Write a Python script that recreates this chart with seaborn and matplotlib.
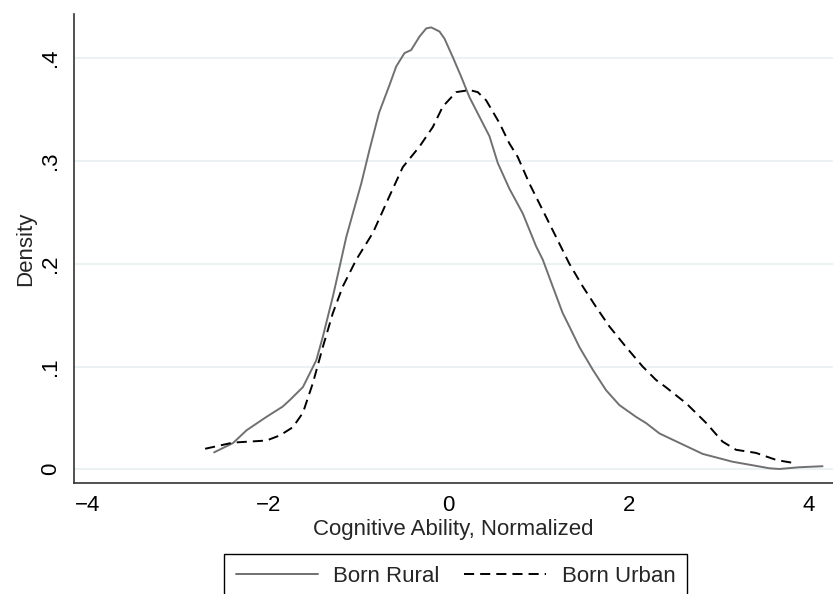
import matplotlib
matplotlib.use("Agg")
import matplotlib.pyplot as plt
import seaborn as sns

# Kernel density values
rural_x = [-2.60, -2.39, -2.24, -2.02, -1.84, -1.76, -1.615, -1.467, -1.394, -1.283,
           -1.208, -1.134, -1.061, -0.968, -0.876, -0.77, -0.654, -0.580, -0.488, -0.414,
           -0.322, -0.247, -0.192, -0.100, -0.044, 0.048, 0.141, 0.233, 0.344, 0.455,
           0.547, 0.676, 0.824, 0.972, 1.046, 1.156, 1.267, 1.341, 1.452, 1.600,
           1.748, 1.896, 2.081, 2.192, 2.339, 2.41, 2.82, 3.15, 3.37, 3.56,
           3.67, 3.89, 4.15]
rural_y = [0.0165, 0.0256, 0.038, 0.051, 0.061, 0.0674, 0.080, 0.106, 0.129, 0.168,
           0.197, 0.226, 0.249, 0.278, 0.311, 0.347, 0.374, 0.392, 0.405, 0.408,
           0.421, 0.429, 0.430, 0.426, 0.419, 0.401, 0.382, 0.362, 0.343, 0.324,
           0.298, 0.273, 0.249, 0.217, 0.204, 0.178, 0.152, 0.139, 0.119, 0.097,
           0.077, 0.0625, 0.051, 0.045, 0.035, 0.032, 0.015, 0.0074, 0.004, 0.001,
           0.0003, 0.002, 0.003]

urban_x = [-2.70, -2.39, -2.02, -1.87, -1.726, -1.615, -1.504, -1.394, -1.283, -1.172,
           -1.023, -0.839, -0.654, -0.507, -0.396, -0.322, -0.174, -0.063, 0.085, 0.233,
           0.325, 0.418, 0.565, 0.676, 0.768, 0.898, 1.046, 1.194, 1.341, 1.489,
           1.637, 1.785, 1.970, 2.154, 2.302, 2.41, 2.64, 2.86, 3.04, 3.19,
           3.41, 3.64, 3.84]
urban_y = [0.020, 0.026, 0.028, 0.033, 0.041, 0.055, 0.084, 0.119, 0.152, 0.178,
           0.204, 0.230, 0.266, 0.294, 0.306, 0.314, 0.333, 0.353, 0.367, 0.369,
           0.367, 0.359, 0.337, 0.317, 0.304, 0.278, 0.252, 0.226, 0.200, 0.178,
           0.158, 0.139, 0.119, 0.100, 0.087, 0.080, 0.064, 0.045, 0.027, 0.019,
           0.016, 0.009, 0.006]

labels = ["Born Rural", "Born Urban"]
x_ticks = [-4, -2, 0, 2, 4]
x_ticklabels = ["\u22124", "\u22122", "0", "2", "4"]
y_ticks = [0, 0.1, 0.2, 0.3, 0.4]
y_ticklabels = ["0", ".1", ".2", ".3", ".4"]

sns.set_style("white")
plt.rcParams['font.family'] = ['Liberation Sans', 'DejaVu Sans']

fig = plt.figure(figsize=(8.33, 5.94), dpi=100)
ax = fig.add_axes([0.0888, 0.1869, 0.9112, 0.7895])

sns.lineplot(x=rural_x, y=rural_y, ax=ax, color="#707070", lw=1.4,
             label=labels[0], sort=False)
sns.lineplot(x=urban_x, y=urban_y, ax=ax, color="black", lw=1.4,
             label=labels[1], sort=False)
ax.lines[1].set_dashes((5.2, 3.1))

ax.set_xlim(-4.155, 4.266)
ax.set_ylim(-0.0133, 0.443)
ax.set_xticks(x_ticks)
ax.set_xticklabels(x_ticklabels)
ax.set_yticks(y_ticks)
ax.set_yticklabels(y_ticklabels, rotation=90, va="center")
ax.tick_params(axis="both", direction="out", length=6, width=1,
               color="#333333", labelsize=16, labelcolor="black", pad=3)

ax.grid(axis="y", color="#e8f0f2", lw=1.2)
ax.set_axisbelow(True)
sns.despine(ax=ax, top=True, right=True)
for s in ["left", "bottom"]:
    ax.spines[s].set_color("#333333")
    ax.spines[s].set_linewidth(1.2)

ax.set_xlabel("Cognitive Ability, Normalized", fontsize=16, labelpad=2)
ax.set_ylabel("Density", fontsize=16, labelpad=3)

handles, labs = ax.get_legend_handles_labels()
ax.get_legend().remove()
leg = fig.legend(handles, labs, loc="upper center", bbox_to_anchor=(0.547, 0.0673),
                 ncol=2, fontsize=16, frameon=True, fancybox=False,
                 edgecolor="black", framealpha=1, handlelength=3.7,
                 handletextpad=0.7, columnspacing=1.1, borderpad=0.52,
                 borderaxespad=0)
leg.get_frame().set_linewidth(1.0)

fig.savefig("out.png", dpi=100)
